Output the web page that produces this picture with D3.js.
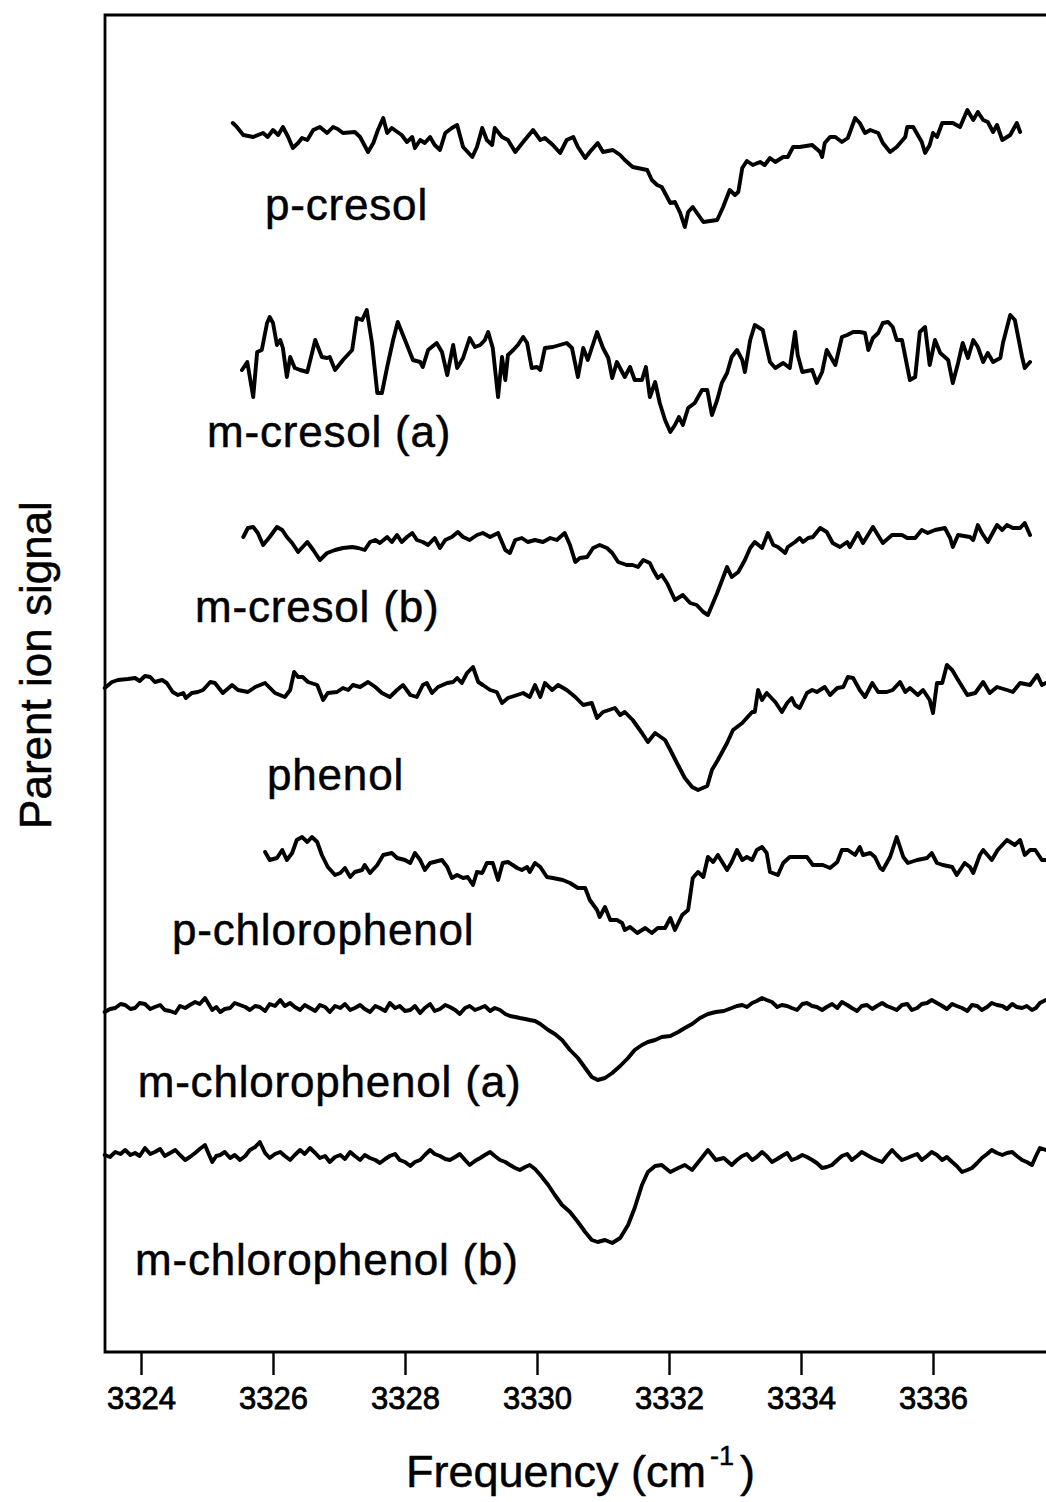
<!DOCTYPE html>
<html>
<head>
<meta charset="utf-8">
<script src="https://cdn.jsdelivr.net/npm/d3@7"></script>
<style>
  html, body { margin: 0; padding: 0; background: #fff; }
  svg { display: block; }
  text { font-family: "Liberation Sans", Arial, Helvetica, sans-serif; fill: #000; stroke: #000; stroke-width: 0.5px; }
</style>
</head>
<body>
<svg id="chart" width="1046" height="1502"></svg>
<script>
// Parent ion signal vs. OH-stretch frequency for seven phenol derivatives.
// Each spectrum is a list of [frequency (cm^-1), signal (arb. units, relative to its own baseline)].

const pCresol = [[3325.39,17],[3325.44,14],[3325.55,5],[3325.70,3],[3325.85,7],[3325.92,3],[3326.00,10],[3326.08,5],[3326.15,13],[3326.23,3],[3326.30,-8],[3326.38,-3],[3326.44,2],[3326.52,0],[3326.61,10],[3326.71,13],[3326.82,7],[3326.91,13],[3326.98,11],[3327.06,7],[3327.24,8],[3327.32,3],[3327.44,-12],[3327.52,-3],[3327.59,10],[3327.67,22],[3327.73,7],[3327.80,12],[3327.95,5],[3328.03,-2],[3328.11,3],[3328.15,-8],[3328.23,0],[3328.30,-3],[3328.38,3],[3328.45,-5],[3328.53,-10],[3328.61,7],[3328.71,12],[3328.79,15],[3328.88,-7],[3329.02,-17],[3329.09,-7],[3329.17,12],[3329.24,0],[3329.32,-5],[3329.36,12],[3329.47,3],[3329.56,0],[3329.67,-12],[3329.79,-2],[3329.94,10],[3330.05,0],[3330.12,2],[3330.24,-5],[3330.35,-13],[3330.45,0],[3330.55,3],[3330.62,-7],[3330.73,-18],[3330.80,-12],[3330.92,-3],[3331.00,-12],[3331.15,-10],[3331.26,-15],[3331.33,-20],[3331.45,-27],[3331.67,-30],[3331.74,-40],[3331.82,-45],[3331.89,-47],[3332.02,-63],[3332.09,-62],[3332.17,-73],[3332.24,-87],[3332.29,-72],[3332.36,-67],[3332.52,-82],[3332.73,-80],[3332.82,-67],[3332.92,-50],[3333.00,-55],[3333.05,-52],[3333.11,-28],[3333.18,-21],[3333.27,-25],[3333.38,-22],[3333.45,-25],[3333.53,-18],[3333.61,-22],[3333.73,-17],[3333.80,-17],[3333.88,-7],[3333.98,-7],[3334.17,-5],[3334.29,-12],[3334.32,-17],[3334.36,-3],[3334.44,3],[3334.52,3],[3334.62,-2],[3334.71,2],[3334.82,22],[3334.89,17],[3334.97,7],[3335.05,10],[3335.17,7],[3335.24,-3],[3335.35,-12],[3335.45,-7],[3335.58,3],[3335.61,13],[3335.70,13],[3335.83,-2],[3335.88,-13],[3335.95,-5],[3336.00,7],[3336.06,3],[3336.14,17],[3336.30,17],[3336.41,13],[3336.52,30],[3336.61,20],[3336.68,28],[3336.76,20],[3336.83,18],[3336.91,8],[3336.97,15],[3337.05,0],[3337.17,5],[3337.27,17],[3337.32,8]];

const mCresolA = [[3325.53,-10],[3325.61,-2],[3325.70,-37],[3325.76,8],[3325.83,10],[3325.91,37],[3325.95,43],[3326.00,37],[3326.06,15],[3326.11,20],[3326.15,12],[3326.21,-17],[3326.26,3],[3326.33,-8],[3326.41,-10],[3326.52,-12],[3326.64,20],[3326.74,3],[3326.82,2],[3326.86,3],[3326.94,-10],[3327.06,0],[3327.20,10],[3327.27,42],[3327.35,40],[3327.42,50],[3327.50,17],[3327.58,-33],[3327.65,-33],[3327.73,-7],[3327.82,20],[3327.89,38],[3328.03,15],[3328.12,0],[3328.23,-2],[3328.27,-7],[3328.35,10],[3328.48,17],[3328.56,8],[3328.64,-15],[3328.73,15],[3328.79,-8],[3328.88,2],[3328.98,22],[3329.06,13],[3329.14,15],[3329.21,20],[3329.26,28],[3329.33,12],[3329.41,-37],[3329.47,3],[3329.52,-20],[3329.56,5],[3329.64,10],[3329.71,15],[3329.79,23],[3329.85,17],[3329.92,-8],[3330.00,-7],[3330.05,-10],[3330.12,12],[3330.24,13],[3330.45,17],[3330.53,12],[3330.62,-17],[3330.70,12],[3330.77,0],[3330.91,28],[3331.00,12],[3331.08,2],[3331.14,-18],[3331.21,-2],[3331.33,-17],[3331.41,-7],[3331.48,-20],[3331.59,-20],[3331.65,-7],[3331.71,-37],[3331.79,-22],[3331.86,-43],[3331.94,-60],[3332.02,-72],[3332.09,-65],[3332.15,-57],[3332.21,-65],[3332.29,-48],[3332.39,-43],[3332.50,-30],[3332.58,-30],[3332.65,-55],[3332.73,-40],[3332.80,-23],[3332.88,-13],[3332.95,3],[3333.03,10],[3333.11,0],[3333.15,-12],[3333.23,20],[3333.30,35],[3333.42,30],[3333.53,-2],[3333.61,-8],[3333.73,-3],[3333.83,-8],[3333.91,28],[3333.95,5],[3334.02,-12],[3334.17,-10],[3334.24,-23],[3334.32,-12],[3334.39,10],[3334.52,-5],[3334.62,23],[3334.70,25],[3334.79,28],[3334.89,28],[3334.97,27],[3335.02,10],[3335.09,22],[3335.17,27],[3335.24,37],[3335.32,38],[3335.39,33],[3335.45,20],[3335.53,20],[3335.65,-20],[3335.73,-17],[3335.80,28],[3335.88,33],[3335.95,-5],[3336.03,20],[3336.11,7],[3336.23,0],[3336.30,-23],[3336.38,-3],[3336.45,17],[3336.53,2],[3336.61,20],[3336.68,13],[3336.76,-2],[3336.83,7],[3336.91,-2],[3337.02,2],[3337.06,17],[3337.17,45],[3337.24,40],[3337.35,3],[3337.39,-8],[3337.47,-2]];

const mCresolB = [[3325.55,8],[3325.62,17],[3325.70,18],[3325.77,12],[3325.85,0],[3325.95,8],[3326.06,18],[3326.14,15],[3326.21,8],[3326.29,2],[3326.38,-7],[3326.52,3],[3326.61,-5],[3326.71,-15],[3326.82,-8],[3326.94,-5],[3327.06,-3],[3327.20,-2],[3327.29,-3],[3327.39,-5],[3327.47,3],[3327.55,5],[3327.62,2],[3327.73,8],[3327.80,3],[3327.88,10],[3327.95,3],[3328.03,8],[3328.11,12],[3328.18,5],[3328.27,3],[3328.35,0],[3328.45,7],[3328.53,-3],[3328.61,5],[3328.71,8],[3328.80,13],[3328.88,8],[3328.98,5],[3329.09,10],[3329.18,12],[3329.29,8],[3329.41,12],[3329.52,-5],[3329.59,-8],[3329.67,5],[3329.77,7],[3329.86,3],[3329.97,5],[3330.09,3],[3330.20,7],[3330.30,5],[3330.42,12],[3330.50,0],[3330.58,-17],[3330.65,-13],[3330.76,-12],[3330.85,-3],[3330.95,0],[3331.06,-3],[3331.14,-8],[3331.23,-17],[3331.36,-20],[3331.45,-20],[3331.53,-22],[3331.61,-15],[3331.71,-18],[3331.76,-25],[3331.83,-33],[3331.89,-30],[3331.97,-38],[3332.09,-55],[3332.21,-50],[3332.32,-58],[3332.42,-60],[3332.52,-67],[3332.59,-70],[3332.73,-48],[3332.88,-22],[3332.95,-32],[3333.05,-27],[3333.15,-15],[3333.23,-3],[3333.30,3],[3333.41,-3],[3333.50,12],[3333.58,0],[3333.65,-2],[3333.76,-8],[3333.80,-2],[3333.91,3],[3333.98,7],[3334.03,3],[3334.11,7],[3334.18,8],[3334.29,17],[3334.39,13],[3334.48,2],[3334.59,-2],[3334.70,3],[3334.74,-2],[3334.86,12],[3334.94,2],[3335.09,18],[3335.24,2],[3335.38,10],[3335.53,10],[3335.61,7],[3335.73,7],[3335.83,15],[3335.92,12],[3336.03,15],[3336.18,17],[3336.26,7],[3336.30,-2],[3336.38,10],[3336.56,8],[3336.61,5],[3336.68,20],[3336.74,12],[3336.83,3],[3336.97,20],[3337.05,15],[3337.12,20],[3337.21,17],[3337.32,17],[3337.39,22],[3337.47,10]];

const phenol = [[3323.45,2],[3323.56,8],[3323.65,10],[3323.80,11],[3323.91,12],[3323.98,9],[3324.06,14],[3324.14,13],[3324.21,8],[3324.32,10],[3324.39,7],[3324.48,-2],[3324.56,-5],[3324.64,-3],[3324.68,-8],[3324.77,-3],[3324.86,-2],[3324.94,0],[3325.05,8],[3325.12,7],[3325.24,-3],[3325.38,5],[3325.47,0],[3325.62,-2],[3325.73,3],[3325.88,7],[3326.03,-3],[3326.18,-7],[3326.26,0],[3326.32,18],[3326.38,13],[3326.45,13],[3326.53,8],[3326.67,5],[3326.76,-10],[3326.83,-3],[3326.97,-2],[3327.06,2],[3327.14,0],[3327.21,5],[3327.32,3],[3327.44,8],[3327.55,3],[3327.65,-3],[3327.77,-7],[3327.88,0],[3327.97,5],[3328.08,-5],[3328.18,-7],[3328.27,5],[3328.33,7],[3328.41,-3],[3328.50,3],[3328.64,7],[3328.73,8],[3328.79,12],[3328.86,7],[3328.94,17],[3329.03,23],[3329.11,8],[3329.18,5],[3329.29,0],[3329.39,-2],[3329.47,-13],[3329.56,-8],[3329.70,-5],[3329.79,-3],[3329.89,-7],[3329.97,5],[3330.05,-7],[3330.12,7],[3330.23,0],[3330.32,5],[3330.45,0],[3330.58,-7],[3330.70,-15],[3330.83,-13],[3330.91,-28],[3331.00,-22],[3331.18,-18],[3331.26,-25],[3331.33,-22],[3331.45,-30],[3331.59,-43],[3331.68,-52],[3331.79,-43],[3331.94,-50],[3332.02,-60],[3332.12,-73],[3332.24,-88],[3332.35,-97],[3332.44,-100],[3332.58,-96],[3332.65,-80],[3332.74,-70],[3332.88,-53],[3332.97,-40],[3333.11,-33],[3333.26,-22],[3333.30,-22],[3333.35,0],[3333.41,-10],[3333.48,-3],[3333.61,-12],[3333.71,-22],[3333.79,-13],[3333.86,-8],[3333.91,-15],[3333.98,-18],[3334.09,-3],[3334.17,0],[3334.24,-2],[3334.36,3],[3334.44,-5],[3334.55,2],[3334.64,3],[3334.71,13],[3334.79,12],[3334.89,0],[3334.97,-7],[3335.08,7],[3335.17,-2],[3335.30,-2],[3335.39,0],[3335.50,8],[3335.58,-2],[3335.65,2],[3335.77,-5],[3335.85,0],[3335.95,-10],[3336.00,-23],[3336.06,7],[3336.14,7],[3336.21,25],[3336.29,20],[3336.38,10],[3336.52,-5],[3336.64,-3],[3336.76,8],[3336.86,-3],[3336.97,3],[3337.12,0],[3337.21,-2],[3337.32,7],[3337.47,5],[3337.58,15],[3337.65,5],[3337.71,7]];

const pChlorophenol = [[3325.88,13],[3325.95,5],[3326.06,7],[3326.14,15],[3326.21,5],[3326.29,12],[3326.36,25],[3326.44,28],[3326.52,23],[3326.59,28],[3326.67,23],[3326.74,10],[3326.83,-2],[3326.94,-10],[3327.02,-8],[3327.09,-3],[3327.17,-12],[3327.24,-7],[3327.35,-5],[3327.39,0],[3327.47,-8],[3327.58,0],[3327.67,10],[3327.80,12],[3327.88,7],[3328.00,5],[3328.08,2],[3328.15,12],[3328.23,5],[3328.30,-5],[3328.38,2],[3328.56,5],[3328.64,-2],[3328.71,-13],[3328.79,-10],[3328.88,-13],[3328.95,-12],[3329.03,-20],[3329.09,-7],[3329.17,-8],[3329.24,2],[3329.33,2],[3329.41,-15],[3329.48,2],[3329.56,3],[3329.70,-3],[3329.77,-5],[3329.85,-2],[3329.89,-7],[3329.97,2],[3330.05,-2],[3330.15,-12],[3330.24,-13],[3330.39,-15],[3330.50,-18],[3330.62,-23],[3330.73,-23],[3330.80,-35],[3330.91,-45],[3330.95,-52],[3331.03,-42],[3331.11,-55],[3331.21,-55],[3331.29,-58],[3331.33,-65],[3331.41,-62],[3331.52,-68],[3331.64,-63],[3331.74,-68],[3331.83,-63],[3331.94,-63],[3332.02,-53],[3332.09,-65],[3332.20,-50],[3332.29,-45],[3332.36,-13],[3332.44,-7],[3332.52,-12],[3332.59,8],[3332.67,3],[3332.74,10],[3332.88,-5],[3332.95,3],[3333.03,15],[3333.11,5],[3333.18,8],[3333.26,5],[3333.33,15],[3333.41,18],[3333.48,12],[3333.53,-7],[3333.65,-10],[3333.73,2],[3333.83,8],[3333.98,8],[3334.09,8],[3334.18,0],[3334.33,0],[3334.44,-3],[3334.55,3],[3334.62,15],[3334.71,15],[3334.82,10],[3334.89,18],[3334.94,10],[3335.05,12],[3335.12,8],[3335.20,-3],[3335.24,-5],[3335.35,8],[3335.45,28],[3335.55,8],[3335.62,2],[3335.76,5],[3335.91,7],[3335.98,12],[3336.06,2],[3336.15,0],[3336.29,-2],[3336.36,-10],[3336.48,2],[3336.56,-2],[3336.61,-8],[3336.71,10],[3336.76,15],[3336.89,5],[3336.98,15],[3337.12,25],[3337.24,20],[3337.32,25],[3337.39,10],[3337.47,15],[3337.55,15],[3337.65,5],[3337.71,5]];

const mChlorophenolA = [[3323.45,-4],[3323.53,-1],[3323.61,0],[3323.69,4],[3323.76,3],[3323.84,-1],[3323.91,0],[3323.98,5],[3324.06,4],[3324.14,-1],[3324.21,1],[3324.29,3],[3324.36,-2],[3324.44,-3],[3324.52,-5],[3324.59,2],[3324.67,0],[3324.74,3],[3324.82,6],[3324.89,4],[3324.97,10],[3325.08,-2],[3325.14,1],[3325.20,-4],[3325.27,-1],[3325.35,0],[3325.42,5],[3325.50,3],[3325.58,1],[3325.65,-2],[3325.73,2],[3325.80,1],[3325.88,-3],[3325.95,4],[3326.03,2],[3326.11,8],[3326.18,2],[3326.26,5],[3326.33,1],[3326.41,-2],[3326.48,3],[3326.56,0],[3326.64,-3],[3326.71,3],[3326.79,1],[3326.86,-4],[3326.94,2],[3327.02,0],[3327.09,4],[3327.17,-2],[3327.24,0],[3327.32,3],[3327.39,-1],[3327.47,-4],[3327.55,2],[3327.62,0],[3327.70,-3],[3327.77,5],[3327.85,0],[3327.92,2],[3328.00,-3],[3328.08,-2],[3328.15,2],[3328.23,-5],[3328.30,0],[3328.38,4],[3328.45,-3],[3328.53,-1],[3328.61,3],[3328.68,1],[3328.76,-2],[3328.83,-6],[3328.91,0],[3328.98,2],[3329.06,-2],[3329.14,0],[3329.21,2],[3329.29,-3],[3329.36,0],[3329.44,-2],[3329.52,-6],[3329.59,-8],[3329.67,-9],[3329.74,-10],[3329.82,-11],[3329.89,-12],[3329.97,-13],[3330.05,-16],[3330.17,-22],[3330.27,-26],[3330.38,-32],[3330.50,-42],[3330.62,-50],[3330.73,-60],[3330.83,-69],[3330.92,-72],[3331.03,-70],[3331.14,-65],[3331.26,-58],[3331.38,-50],[3331.48,-42],[3331.59,-37],[3331.68,-34],[3331.79,-32],[3331.89,-29],[3332.02,-28],[3332.14,-24],[3332.24,-20],[3332.35,-16],[3332.47,-10],[3332.59,-6],[3332.71,-4],[3332.83,-3],[3332.95,0],[3333.03,2],[3333.11,3],[3333.18,1],[3333.26,5],[3333.33,7],[3333.41,10],[3333.48,8],[3333.56,6],[3333.64,1],[3333.71,3],[3333.79,2],[3333.86,0],[3333.94,-2],[3334.02,4],[3334.09,5],[3334.17,2],[3334.24,1],[3334.32,-2],[3334.39,1],[3334.47,4],[3334.55,0],[3334.62,6],[3334.70,3],[3334.77,0],[3334.85,-3],[3334.92,2],[3335.00,3],[3335.08,-1],[3335.15,2],[3335.23,5],[3335.30,2],[3335.38,0],[3335.45,-2],[3335.53,3],[3335.61,4],[3335.68,-2],[3335.76,0],[3335.83,4],[3335.91,5],[3335.98,8],[3336.06,5],[3336.14,2],[3336.21,-1],[3336.29,4],[3336.36,2],[3336.44,0],[3336.52,-3],[3336.59,3],[3336.67,2],[3336.74,-2],[3336.82,1],[3336.89,5],[3336.97,3],[3337.05,2],[3337.12,-1],[3337.20,4],[3337.27,1],[3337.35,0],[3337.42,2],[3337.50,-2],[3337.56,0],[3337.62,5],[3337.71,8]];

const mChlorophenolB = [[3323.45,3],[3323.53,1],[3323.61,6],[3323.69,4],[3323.76,8],[3323.84,3],[3323.91,5],[3323.98,2],[3324.06,10],[3324.14,4],[3324.21,6],[3324.29,9],[3324.36,2],[3324.44,5],[3324.52,8],[3324.59,3],[3324.67,-2],[3324.74,1],[3324.82,5],[3324.89,9],[3324.97,13],[3325.02,5],[3325.08,-4],[3325.14,2],[3325.20,3],[3325.27,6],[3325.35,0],[3325.42,3],[3325.50,-2],[3325.58,2],[3325.65,8],[3325.73,11],[3325.80,16],[3325.88,5],[3325.95,0],[3326.03,4],[3326.11,6],[3326.18,2],[3326.26,-2],[3326.33,3],[3326.41,8],[3326.48,4],[3326.56,10],[3326.64,5],[3326.71,0],[3326.79,2],[3326.86,-4],[3326.94,1],[3327.02,3],[3327.09,-1],[3327.17,6],[3327.24,2],[3327.32,-2],[3327.39,3],[3327.47,0],[3327.55,-2],[3327.62,-5],[3327.70,-1],[3327.77,2],[3327.85,4],[3327.92,-2],[3328.00,-4],[3328.08,-8],[3328.15,-4],[3328.23,-2],[3328.30,3],[3328.38,8],[3328.45,4],[3328.53,2],[3328.61,-1],[3328.68,-2],[3328.76,1],[3328.83,4],[3328.91,-2],[3328.98,-7],[3329.06,-3],[3329.14,0],[3329.21,3],[3329.29,6],[3329.36,2],[3329.44,-2],[3329.52,-4],[3329.59,-7],[3329.67,-10],[3329.74,-12],[3329.82,-9],[3329.89,-7],[3329.97,-11],[3330.05,-17],[3330.17,-27],[3330.27,-37],[3330.38,-47],[3330.50,-54],[3330.62,-64],[3330.73,-74],[3330.83,-82],[3330.92,-84],[3331.03,-82],[3331.14,-85],[3331.26,-80],[3331.38,-67],[3331.48,-50],[3331.59,-27],[3331.68,-14],[3331.79,-8],[3331.89,-7],[3332.02,-14],[3332.14,-10],[3332.24,-7],[3332.35,-12],[3332.47,-2],[3332.59,8],[3332.71,-2],[3332.83,0],[3332.95,-7],[3333.03,-2],[3333.11,2],[3333.18,4],[3333.26,-2],[3333.33,1],[3333.41,6],[3333.48,2],[3333.56,-4],[3333.64,-1],[3333.71,2],[3333.79,5],[3333.86,-2],[3333.94,0],[3334.02,3],[3334.09,1],[3334.17,-2],[3334.24,-5],[3334.32,-10],[3334.39,-9],[3334.47,-7],[3334.55,-2],[3334.62,2],[3334.70,4],[3334.77,-2],[3334.85,2],[3334.92,6],[3335.00,3],[3335.08,0],[3335.15,-2],[3335.23,-4],[3335.30,2],[3335.38,8],[3335.45,3],[3335.53,-2],[3335.61,0],[3335.68,2],[3335.76,4],[3335.83,-2],[3335.91,2],[3335.98,6],[3336.06,3],[3336.14,-2],[3336.21,1],[3336.29,-4],[3336.36,-8],[3336.44,-14],[3336.52,-12],[3336.59,-10],[3336.67,-5],[3336.74,0],[3336.82,4],[3336.89,8],[3336.97,5],[3337.05,3],[3337.12,5],[3337.20,6],[3337.27,2],[3337.35,-2],[3337.42,-4],[3337.50,-7],[3337.56,2],[3337.62,10],[3337.71,8]];

// Names, in stacking order from top to bottom
const seriesNames = ["p-cresol", "m-cresol (a)", "m-cresol (b)", "phenol",
                     "p-chlorophenol", "m-chlorophenol (a)", "m-chlorophenol (b)"];
const seriesData = [pCresol, mCresolA, mCresolB, phenol, pChlorophenol, mChlorophenolA, mChlorophenolB];
// Vertical offset of each spectrum in the stack (signal units)
const seriesOffsets = [1212, 992, 807, 662, 487, 344, 194];

const xTicks = [3324, 3326, 3328, 3330, 3332, 3334, 3336];

// ---- layout ----
const svg = d3.select("#chart");
const W = 1046, H = 1502;
const plot = { left: 105, top: 15, bottom: 1352 };

const x = d3.scaleLinear().domain([3324, 3336]).range([141, 933]);
const y = d3.scaleLinear().domain([0, 1337]).range([plot.bottom, plot.top]);

// Label placement: start frequency and baseline drop (px) below each trace's offset
const labelPos = [
  { f: 3325.88, dy: 80 },
  { f: 3325.00, dy: 87 },
  { f: 3324.82, dy: 77 },
  { f: 3325.91, dy: 100 },
  { f: 3324.47, dy: 80 },
  { f: 3323.95, dy: 89 },
  { f: 3323.91, dy: 117 }
];

// Frame (the right edge runs past the page)
svg.append("path")
  .attr("d", `M${W + 10},${plot.top} H${plot.left} V${plot.bottom} H${W + 10}`)
  .attr("fill", "none")
  .attr("stroke", "#000")
  .attr("stroke-width", 2.8);

// Bottom axis ticks and labels
const xAxis = d3.axisBottom(x)
  .tickValues(xTicks)
  .tickFormat(d3.format("d"))
  .tickSize(23)
  .tickSizeOuter(0)
  .tickPadding(12);

const gx = svg.append("g")
  .attr("transform", `translate(0,${plot.bottom})`)
  .call(xAxis);
gx.select(".domain").remove();
gx.selectAll(".tick line").attr("stroke", "#000").attr("stroke-width", 2.4);
gx.selectAll(".tick text")
  .attr("font-family", "'Liberation Sans', Arial, sans-serif")
  .attr("font-size", 31)
  .attr("fill", "#000")
  .style("stroke", "#000")
  .style("stroke-width", "0.8px");

// Spectra
const line = d3.line()
  .x(d => x(d[0]))
  .y(d => d[1]);

seriesData.forEach((data, i) => {
  const off = seriesOffsets[i];
  svg.append("path")
    .datum(data.map(d => [d[0], y(off + d[1])]))
    .attr("d", line)
    .attr("fill", "none")
    .attr("stroke", "#000")
    .attr("stroke-width", 3.9)
    .attr("stroke-linejoin", "round")
    .attr("stroke-linecap", "round");

  svg.append("text")
    .attr("x", x(labelPos[i].f))
    .attr("y", y(off) + labelPos[i].dy)
    .attr("font-size", 44)
    .attr("letter-spacing", 0.8)
    .text(seriesNames[i]);
});

// Axis titles
svg.append("text")
  .attr("transform", "translate(51,665) rotate(-90)")
  .attr("text-anchor", "middle")
  .attr("font-size", 44)
  .text("Parent ion signal");

const xt = svg.append("text")
  .attr("x", 406)
  .attr("y", 1487)
  .attr("font-size", 45);
xt.append("tspan").text("Frequency (cm");
xt.append("tspan").attr("font-size", 27).attr("dy", -22).attr("dx", 4).text("-1");
xt.append("tspan").attr("dy", 22).attr("dx", 6).text(")");
</script>
</body>
</html>
